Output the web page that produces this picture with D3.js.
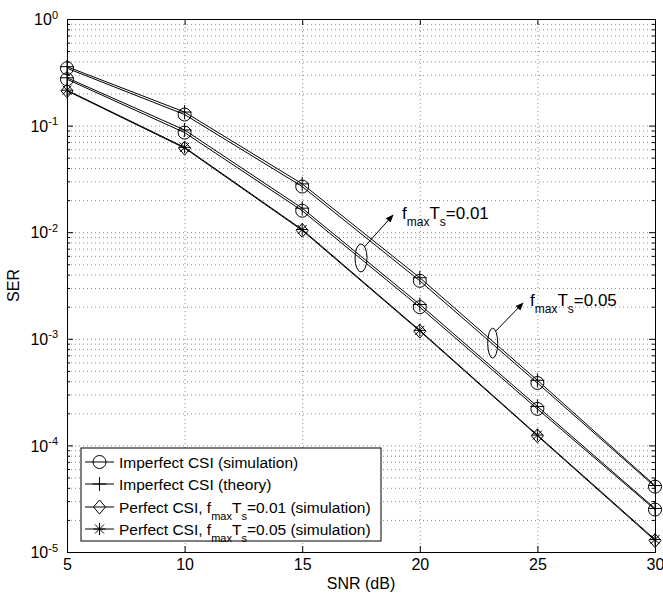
<!DOCTYPE html>
<html>
<head>
<meta charset="utf-8">
<script src="https://cdnjs.cloudflare.com/ajax/libs/d3/7.8.5/d3.min.js"></script>
<style>
  body { margin: 0; background: #fff; }
  svg { font-family: "Liberation Sans", Arial, sans-serif; }
  .axis path, .axis line { fill: none; stroke: #000; stroke-width: 1; }
  .grid line { stroke: #8a8a8a; stroke-dasharray: 1,3; stroke-width: 1; }
  .grid path { display: none; }
</style>
</head>
<body>
<svg id="chart" width="663" height="595"></svg>
<script>
// SNR points (dB)
var snr = [5, 10, 15, 20, 25, 30];

// fmaxTs = 0.05, imperfect CSI
var simImp05 = [0.345, 0.127, 0.0268, 0.0035, 3.85e-4, 4.1e-5];
var theoImp05 = [0.357, 0.134, 0.0284, 0.00374, 4.08e-4, 4.2e-5];
// fmaxTs = 0.01, imperfect CSI
var simImp01 = [0.272, 0.086, 0.0159, 0.00198, 2.2e-4, 2.5e-5];
var theoImp01 = [0.281, 0.091, 0.0168, 0.0021, 2.32e-4, 2.56e-5];
// perfect CSI
var perf01 = [0.212, 0.0615, 0.0104, 0.00118, 1.23e-4, 1.28e-5];
var perf05 = [0.215, 0.0625, 0.0106, 0.0012, 1.25e-4, 1.31e-5];

var xTicks = [5, 10, 15, 20, 25, 30];
var yMajor = [1e-5, 1e-4, 1e-3, 1e-2, 1e-1, 1];
var legendLabels = [
  ["Imperfect CSI (simulation)"],
  ["Imperfect CSI (theory)"],
  ["Perfect CSI, f", "max", "T", "s", "=0.01 (simulation)"],
  ["Perfect CSI, f", "max", "T", "s", "=0.05 (simulation)"]
];

var margin = {left: 67, top: 19, right: 8, bottom: 43};
var W = 663, H = 595;
var x = d3.scaleLinear().domain([5, 30]).range([margin.left, W - margin.right]);
var y = d3.scaleLog().domain([1e-5, 1]).range([H - margin.bottom, margin.top]);
var x0 = x.range()[0], x1 = x.range()[1], y0 = y.range()[0], y1 = y.range()[1];

var yMinor = [];
yMajor.slice(0, -1).forEach(function(d) {
  for (var k = 2; k <= 9; k++) yMinor.push(d * k);
});

var svg = d3.select("#chart");

// grid
svg.append("g").attr("class", "grid")
  .attr("transform", "translate(0," + y0 + ")")
  .call(d3.axisBottom(x).tickValues([10, 15, 20, 25]).tickSize(-(y0 - y1)).tickFormat(""));
svg.append("g").attr("class", "grid")
  .attr("transform", "translate(" + x0 + ",0)")
  .call(d3.axisLeft(y).tickValues(yMajor.slice(1, -1).concat(yMinor)).tickSize(-(x1 - x0)).tickFormat(""));

// lines + markers
var line = d3.line().x(function(d, i) { return x(snr[i]); }).y(function(d) { return y(d); });

function circleM(g) { g.append("circle").attr("r", 6.5).attr("fill", "none").attr("stroke", "#000"); }
function plusM(g) { g.append("path").attr("d", "M-7,0H7M0,-7V7").attr("stroke", "#000").attr("fill", "none"); }
function diamondM(g) { g.append("path").attr("d", "M0,-7L6,0L0,7L-6,0Z").attr("stroke", "#000").attr("fill", "none"); }
function starM(g) { g.append("path").attr("d", "M-6,0H6M0,-6V6M-4.5,-4.5L4.5,4.5M-4.5,4.5L4.5,-4.5").attr("stroke", "#000").attr("fill", "none"); }

var series = [
  {v: simImp05, m: circleM}, {v: theoImp05, m: plusM},
  {v: simImp01, m: circleM}, {v: theoImp01, m: plusM},
  {v: perf01, m: diamondM}, {v: perf05, m: starM}
];
series.forEach(function(s) {
  svg.append("path").datum(s.v).attr("d", line)
    .attr("fill", "none").attr("stroke", "#000").attr("stroke-width", 1);
  s.v.forEach(function(d, i) {
    var g = svg.append("g").attr("transform", "translate(" + x(snr[i]) + "," + y(d) + ")");
    s.m(g);
  });
});

// axes (ticks inside)
var bx = svg.append("g").attr("class", "axis")
  .attr("transform", "translate(0," + y0 + ")")
  .call(d3.axisBottom(x).tickValues(xTicks).tickSize(-6).tickPadding(7).tickFormat(d3.format("d")));
bx.selectAll("text").attr("font-size", 16).attr("font-family", "Liberation Sans, Arial, sans-serif").attr("fill", "#000");
svg.append("g").attr("class", "axis")
  .attr("transform", "translate(0," + y1 + ")")
  .call(d3.axisTop(x).tickValues(xTicks).tickSize(-6).tickFormat(""));

var ly = svg.append("g").attr("class", "axis")
  .attr("transform", "translate(" + x0 + ",0)")
  .call(d3.axisLeft(y).tickValues(yMajor).tickSize(-6).tickPadding(9));
ly.selectAll("text").each(function(d) {
  var t = d3.select(this).text("").attr("font-size", 16).attr("fill", "#000")
    .attr("dy", "0.35em").attr("font-family", "Liberation Sans, Arial, sans-serif");
  t.append("tspan").text("10");
  t.append("tspan").attr("dy", "-0.6em").attr("font-size", 11).text(Math.round(Math.log10(d)));
});
svg.append("g").attr("class", "axis")
  .attr("transform", "translate(" + x0 + ",0)")
  .call(d3.axisLeft(y).tickValues(yMinor).tickSize(-3).tickFormat(""))
  .select(".domain").remove();
svg.append("g").attr("class", "axis")
  .attr("transform", "translate(" + x1 + ",0)")
  .call(d3.axisRight(y).tickValues(yMajor).tickSize(-6).tickFormat(""));
svg.append("g").attr("class", "axis")
  .attr("transform", "translate(" + x1 + ",0)")
  .call(d3.axisRight(y).tickValues(yMinor).tickSize(-3).tickFormat(""))
  .select(".domain").remove();

// axis labels
svg.append("text").attr("x", (x0 + x1) / 2).attr("y", 589).attr("text-anchor", "middle")
  .attr("font-size", 16).text("SNR (dB)");
svg.append("text").attr("transform", "translate(19," + ((y0 + y1) / 2) + ") rotate(-90)")
  .attr("text-anchor", "middle").attr("font-size", 16).text("SER");

// annotations
function subLabel(px, py, main, sub, main2, sub2, tail, fs, sfs) {
  var t = svg.append("text").attr("x", px).attr("y", py).attr("font-size", fs);
  t.append("tspan").text(main);
  t.append("tspan").attr("dy", 7).attr("font-size", sfs).text(sub);
  t.append("tspan").attr("dy", -7).text(main2);
  t.append("tspan").attr("dy", 7).attr("font-size", sfs).text(sub2);
  t.append("tspan").attr("dy", -7).text(tail);
  return t;
}
svg.append("defs").append("marker").attr("id", "arr").attr("viewBox", "0 0 10 10")
  .attr("refX", 9).attr("refY", 5).attr("markerWidth", 8).attr("markerHeight", 8)
  .attr("markerUnits", "userSpaceOnUse").attr("orient", "auto")
  .append("path").attr("d", "M0,1L10,5L0,9Z").attr("fill", "#000");

var ann = [
  {snr: 17.5, sim: simImp01, rx: 6, ry: 14, tx: 393, ty: 215, lx: 402, ly: 219, txt: "=0.01"},
  {snr: 23.1, sim: simImp05, rx: 5, ry: 15, tx: 523, ty: 303, lx: 530, ly: 306, txt: "=0.05"}
];
ann.forEach(function(a) {
  var cx = x(a.snr);
  var i = Math.floor((a.snr - 5) / 5), f = (a.snr - snr[i]) / 5;
  var cy = y(Math.exp(Math.log(a.sim[i]) * (1 - f) + Math.log(a.sim[i + 1]) * f)) - 1;
  svg.append("ellipse").attr("cx", cx).attr("cy", cy).attr("rx", a.rx).attr("ry", a.ry)
    .attr("fill", "none").attr("stroke", "#000");
  svg.append("line").attr("x1", cx + a.rx * 0.6).attr("y1", cy - a.ry * 0.8)
    .attr("x2", a.tx).attr("y2", a.ty).attr("stroke", "#000").attr("marker-end", "url(#arr)");
  subLabel(a.lx, a.ly, "f", "max", "T", "s", a.txt, 17, 12);
});

// legend
var lg = svg.append("g");
lg.append("rect").attr("x", 81).attr("y", 448).attr("width", 300).attr("height", 93)
  .attr("fill", "#fff").attr("stroke", "#000");
var legM = [circleM, plusM, diamondM, starM];
var rowY = [462, 484, 507, 529];
legendLabels.forEach(function(lab, i) {
  lg.append("line").attr("x1", 85).attr("x2", 114).attr("y1", rowY[i]).attr("y2", rowY[i]).attr("stroke", "#000");
  legM[i](lg.append("g").attr("transform", "translate(99.5," + rowY[i] + ")"));
  var t = lg.append("text").attr("x", 119).attr("y", rowY[i] + 5.5).attr("font-size", 15.5);
  t.append("tspan").text(lab[0]);
  if (lab.length > 1) {
    t.append("tspan").attr("dy", 7).attr("font-size", 11).text(lab[1]);
    t.append("tspan").attr("dy", -7).text(lab[2]);
    t.append("tspan").attr("dy", 7).attr("font-size", 11).text(lab[3]);
    t.append("tspan").attr("dy", -7).text(lab[4]);
  }
});
</script>
</body>
</html>
